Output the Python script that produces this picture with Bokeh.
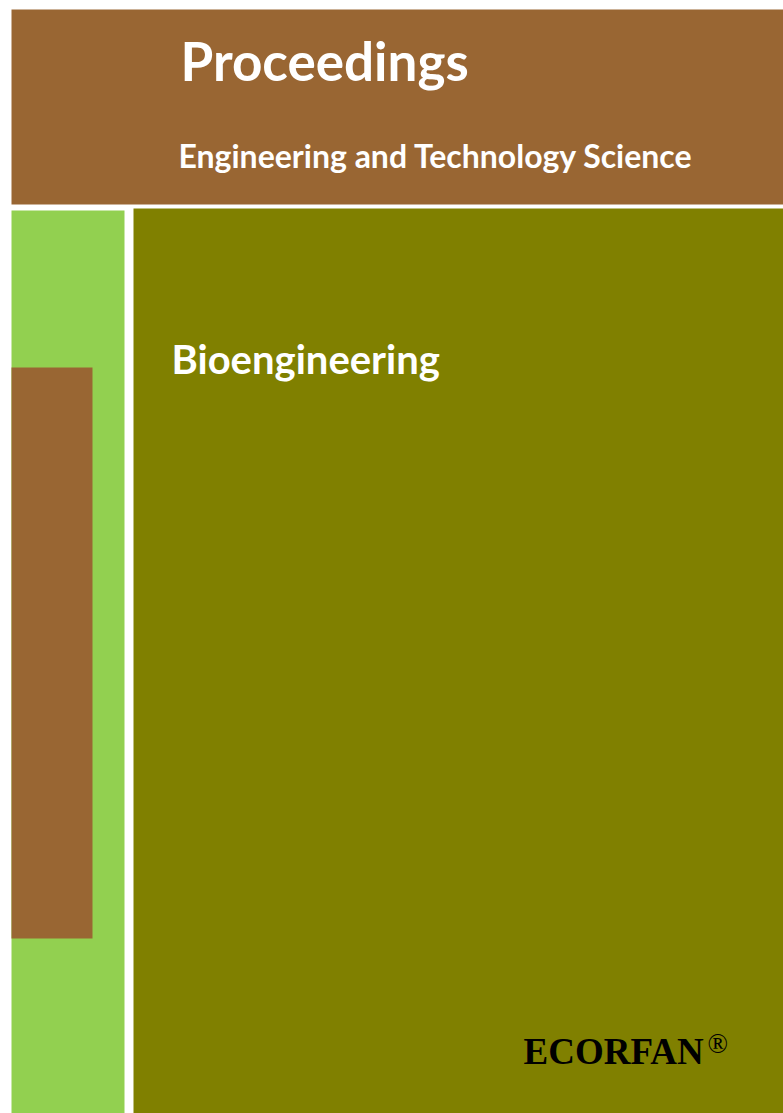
from bokeh.plotting import figure
from bokeh.models import Range1d
from bokeh.core.properties import value
from bokeh.embed import file_html
from bokeh.resources import INLINE

# Content
title_text = "Proceedings"
subtitle_text = "Engineering and Technology Science"
topic_text = "Bioengineering"
publisher_text = "ECORFAN"
mark_text = "®"

# Palette
BROWN = "#996633"
LIGHT_GREEN = "#92D050"
OLIVE = "#808000"

W, H = 783, 1113
p = figure(width=W, height=H, output_backend="svg", toolbar_location=None,
           x_range=Range1d(0, W), y_range=Range1d(H, 0),
           min_border=0, background_fill_color="white", border_fill_color="white")
p.outline_line_color = None
p.axis.visible = False
p.grid.visible = False

# Panels (page pixel coordinates)
p.quad(left=[11], right=[783], top=[9], bottom=[204], fill_color=BROWN, line_color=None)
p.quad(left=[11], right=[124], top=[210], bottom=[1113], fill_color=LIGHT_GREEN, line_color=None)
p.quad(left=[133], right=[783], top=[208], bottom=[1113], fill_color=OLIVE, line_color=None)
p.quad(left=[11], right=[92], top=[367], bottom=[938], fill_color=BROWN, line_color=None)


def put(x, baseline, txt, font, size, style, color, k):
    # k: empirical shift between requested anchor and rendered baseline (fraction of size)
    p.text(x=[x], y=[baseline - k * size], text=[txt], text_font=value(font),
           text_font_size=f"{size}px", text_font_style=style, text_color=color,
           text_baseline="alphabetic")


put(180, 82, title_text, "Lato", 53, "bold", "white", 0.42)
put(178, 168, subtitle_text, "Lato", 32, "bold", "white", 0.42)
put(171, 375, topic_text, "Lato", 40, "bold", "white", 0.42)
put(523, 1063, publisher_text, "Liberation Serif", 37, "bold", "black", 0.33)
put(707, 1052, mark_text, "Liberation Serif", 27, "normal", "black", 0.33)

open("out.html", "w").write(file_html(p, INLINE))
